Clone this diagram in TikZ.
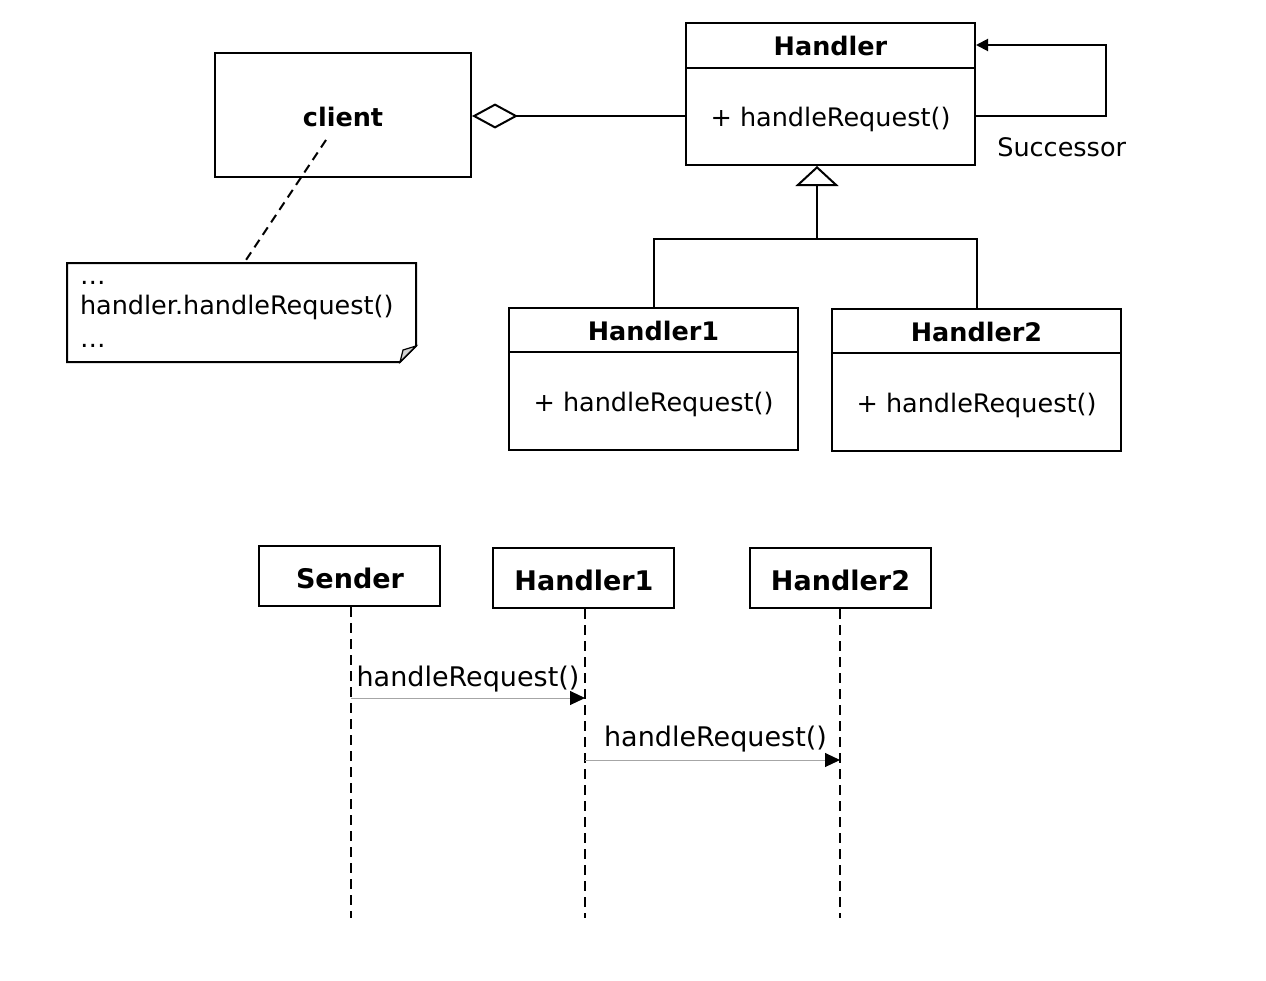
\documentclass[tikz,border=0pt]{standalone}
\usepackage{fontspec}
\setmainfont{DejaVu Sans}
\usetikzlibrary{arrows.meta,calc}
\begin{document}
\begin{tikzpicture}[x=1pt,y=-1pt,line width=2pt,
  box/.style={draw,rectangle,inner sep=0pt,line width=2pt},
  cls/.style={font=\fontsize{25.5}{30}\selectfont},
  ctitle/.style={font=\fontsize{25.5}{30}\selectfont\bfseries},
  stitle/.style={font=\fontsize{27}{32}\selectfont\bfseries},
  slabel/.style={font=\fontsize{27}{32}\selectfont},
  classbox/.style={box,minimum width=289pt,minimum height=142pt},
  lifebox/.style={box,minimum width=181pt,minimum height=60pt},
  life/.style={line width=2.2pt,dash pattern=on 10pt off 6pt},
  msg/.style={line width=1pt,draw=gray!70,-{Triangle[length=15pt,width=14pt,fill=black,color=black]}}]
\useasboundingbox[fill=white] (0,0) rectangle (1266,980);

% ---- class diagram ----
\node[classbox] (H) at (830.5,94) {};
\node[ctitle] (Ht) at (830.5,46) {Handler};
\node[cls] (Hm) at (830.5,119) {+ handleRequest()};
\draw (686,68) -- (975,68);

\node[box,minimum width=256pt,minimum height=124pt] (C) at (343,115) {};
\node[ctitle] (Ct) at (343,117) {client};

\node[classbox] (H1) at (653.5,379) {};
\node[ctitle] (H1t) at (653.5,331) {Handler1};
\node[cls] (H1m) at (653.5,404) {+ handleRequest()};
\draw (509,352) -- (798,352);

\node[classbox] (H2) at (976.5,380) {};
\node[ctitle] (H2t) at (976.5,332) {Handler2};
\node[cls] (H2m) at (976.5,405) {+ handleRequest()};
\draw (832,353) -- (1121,353);

\node[cls,anchor=west] (Sc) at (993,147) {Successor};

% self loop
\coordinate (L1) at (1106,116);
\coordinate (L2) at (1106,45);
\draw[-{Triangle[length=12pt,width=12pt]}] (H.east |- L1) -- (L1) -- (L2) -- (H.east |- L2);

% aggregation
\draw[{Diamond[open,length=46pt,width=25pt]}-] (C.east |- L1) -- (H.west |- L1);

% generalization
\coordinate (J) at (817,239);
\draw (H1.north) |- (J) -| (H2.north);
\draw[-{Triangle[open,length=20pt,width=43pt]}] (J) -- (J |- H.south);

% note
\node[minimum width=347pt,minimum height=97pt,inner sep=0pt] (N) at (241.5,312.5) {};
\draw (N.north west) -- (N.north east) -- ($(N.south east)+(0,-16)$) -- ($(N.south east)+(-16,0)$) -- (N.south west) -- cycle;
\draw[fill=gray!35,line width=1.2pt] ($(N.south east)+(0,-16)$) -- ($(N.south east)+(-13,-12)$) -- ($(N.south east)+(-16,0)$) -- cycle;
\node[cls,anchor=base west,inner sep=0pt] (n1) at (79,284) {…};
\node[cls,anchor=base west,inner sep=0pt] (n2) at (79,314) {handler.handleRequest()};
\node[cls,anchor=base west,inner sep=0pt] (n3) at (79,347) {…};
\coordinate (cd) at (326,140);
\draw[dash pattern=on 9pt off 6pt] (cd) -- ($(N.north)+(2.5,0)$);

% ---- sequence diagram ----
\node[lifebox] (S) at (349.5,576) {};
\node[stitle] (St) at (350,578) {Sender};
\node[lifebox] (P1) at (583.5,578) {};
\node[stitle] (P1t) at (584,580) {Handler1};
\node[lifebox] (P2) at (840.5,578) {};
\node[stitle] (P2t) at (840.5,580) {Handler2};
\coordinate (E) at (0,918);
\coordinate (x1) at (351,0);
\coordinate (x2) at (585,0);
\coordinate (x3) at (840,0);
\draw[life] (x1 |- S.south) -- (x1 |- E);
\draw[life] (x2 |- P1.south) -- (x2 |- E);
\draw[life] (x3 |- P2.south) -- (x3 |- E);

\coordinate (m1) at (0,698);
\coordinate (m2) at (0,760);
\draw[msg] (x1 |- m1) -- node[slabel,midway,yshift=19pt] (l1) {handleRequest()} (x2 |- m1);
\draw[msg] (x2 |- m2) -- node[slabel,midway,yshift=21pt,xshift=3pt] (l2) {handleRequest()} (x3 |- m2);
\end{tikzpicture}
\end{document}
